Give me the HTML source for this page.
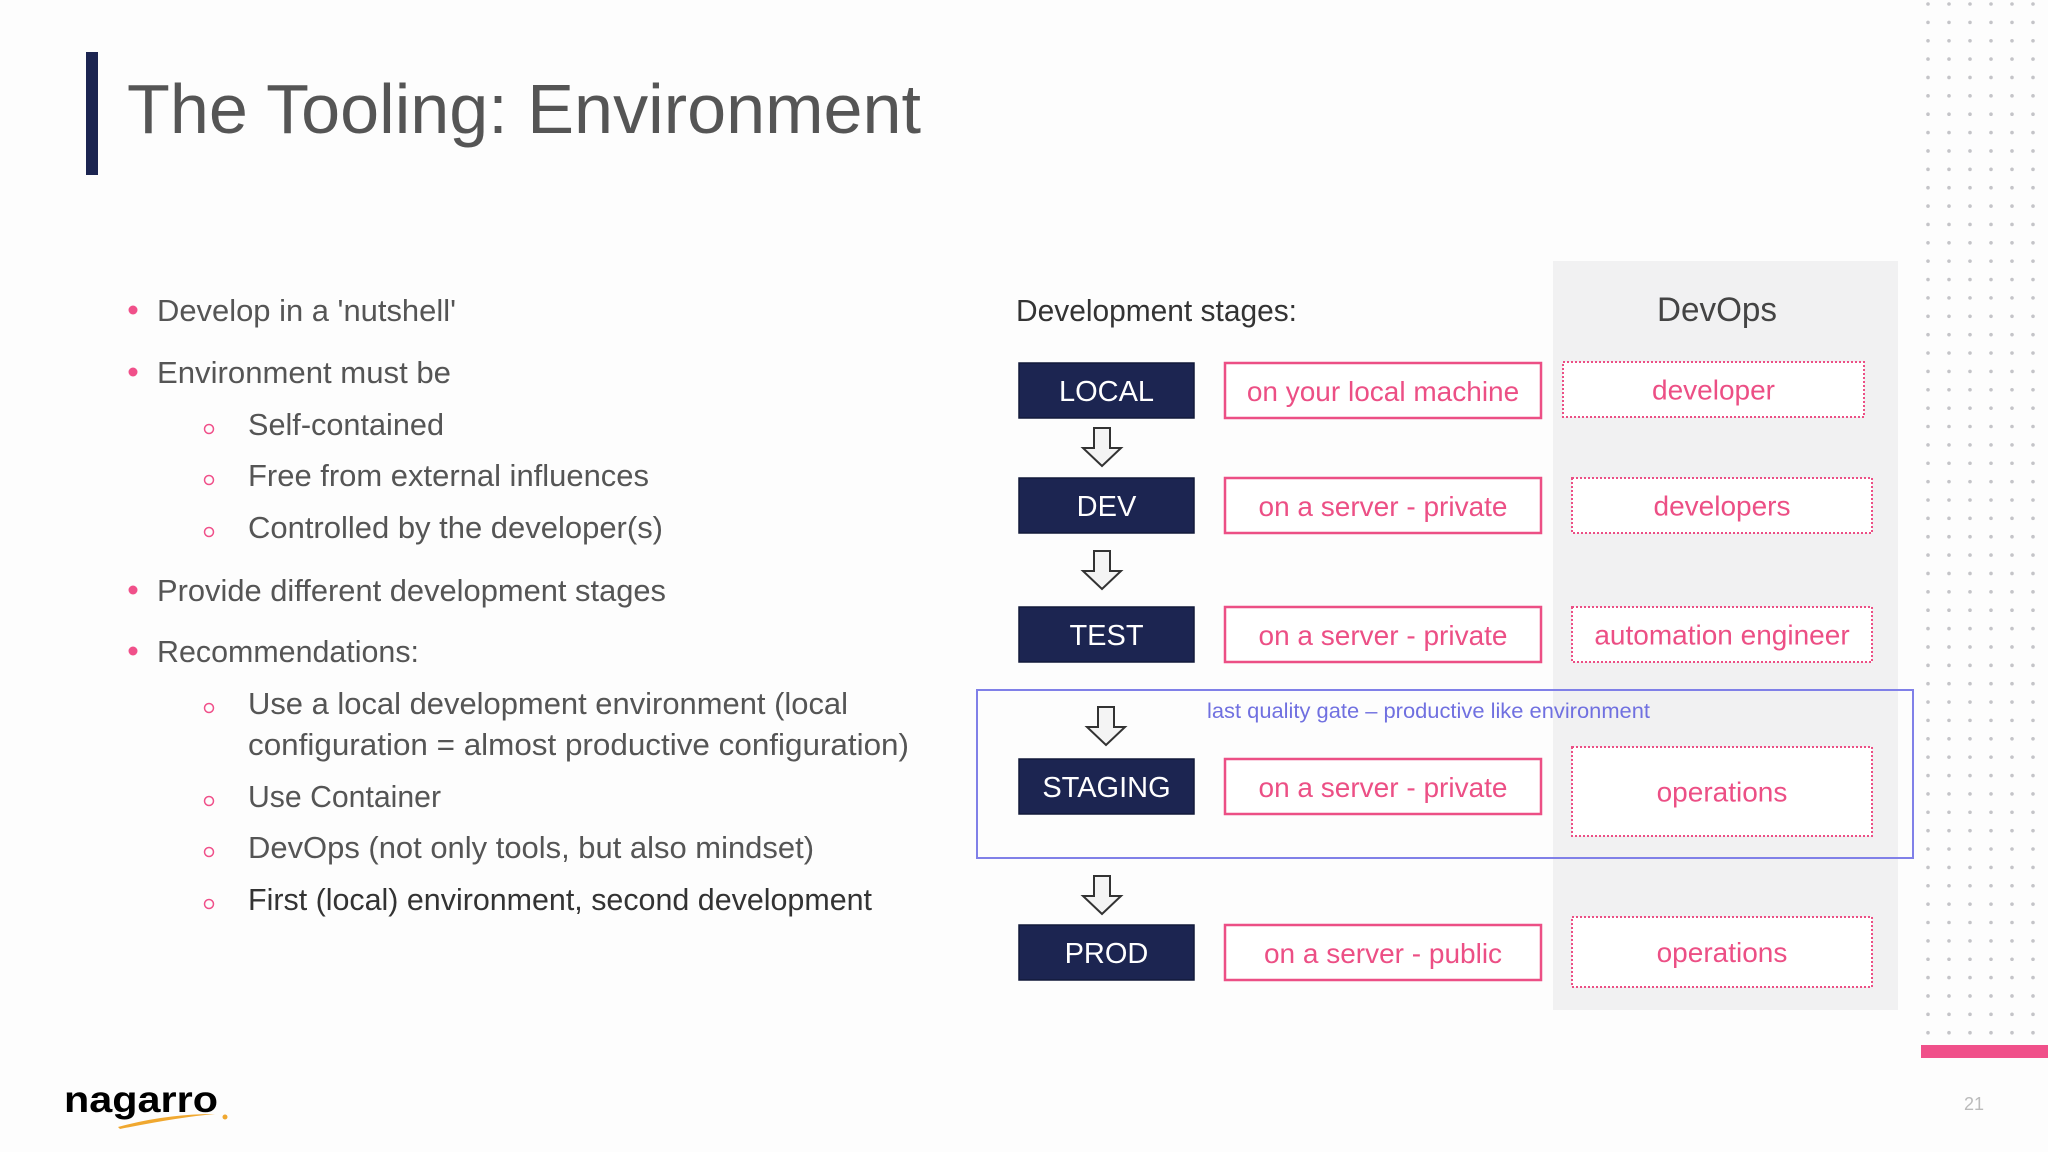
<!DOCTYPE html>
<html><head><meta charset="utf-8"><style>
html,body{margin:0;padding:0;background:#fff;}
svg{display:block;font-family:"Liberation Sans",sans-serif;}
</style></head><body>
<svg width="2048" height="1152" viewBox="0 0 2048 1152" xmlns="http://www.w3.org/2000/svg">
<rect width="2048" height="1152" fill="#fdfdfd"/>
<g id="dots"></g>
<rect x="1921" y="1045" width="127" height="13" fill="#f0508a"/>
<rect x="86" y="52" width="12" height="123" fill="#1c2551"/>
<text x="127" y="133" font-size="70" fill="#555" textLength="794" lengthAdjust="spacingAndGlyphs">The Tooling: Environment</text>

<g fill="#555" font-size="31">
<g fill="#f0508a">
<circle cx="133" cy="310" r="4.5"/><circle cx="133" cy="372" r="4.5"/><circle cx="133" cy="590" r="4.5"/><circle cx="133" cy="651" r="4.5"/>
</g>
<g fill="none" stroke="#f0508a" stroke-width="1.5">
<circle cx="209" cy="429" r="4.5"/><circle cx="209" cy="480" r="4.5"/><circle cx="209" cy="532" r="4.5"/><circle cx="209" cy="708" r="4.5"/><circle cx="209" cy="801" r="4.5"/><circle cx="209" cy="852" r="4.5"/><circle cx="209" cy="904" r="4.5"/>
</g>
<text x="157" y="321" textLength="299" lengthAdjust="spacingAndGlyphs">Develop in a 'nutshell'</text>
<text x="157" y="383" textLength="294" lengthAdjust="spacingAndGlyphs">Environment must be</text>
<text x="248" y="435" textLength="196" lengthAdjust="spacingAndGlyphs">Self-contained</text>
<text x="248" y="486" textLength="401" lengthAdjust="spacingAndGlyphs">Free from external influences</text>
<text x="248" y="538" textLength="415" lengthAdjust="spacingAndGlyphs">Controlled by the developer(s)</text>
<text x="157" y="601" textLength="509" lengthAdjust="spacingAndGlyphs">Provide different development stages</text>
<text x="157" y="662" textLength="262" lengthAdjust="spacingAndGlyphs">Recommendations:</text>
<text x="248" y="714" textLength="600" lengthAdjust="spacingAndGlyphs">Use a local development environment (local</text>
<text x="248" y="755" textLength="661" lengthAdjust="spacingAndGlyphs">configuration = almost productive configuration)</text>
<text x="248" y="807" textLength="193" lengthAdjust="spacingAndGlyphs">Use Container</text>
<text x="248" y="858" textLength="566" lengthAdjust="spacingAndGlyphs">DevOps (not only tools, but also mindset)</text>
<text x="248" y="910" textLength="624" lengthAdjust="spacingAndGlyphs" fill="#333">First (local) environment, second development</text>
</g>

<rect x="1553" y="261" width="345" height="749" fill="#f1f1f2"/>
<text x="1016" y="321" font-size="31" fill="#333" textLength="281" lengthAdjust="spacingAndGlyphs">Development stages:</text>
<text x="1717" y="321" font-size="34" fill="#444" text-anchor="middle" textLength="120" lengthAdjust="spacingAndGlyphs">DevOps</text>

<rect x="977" y="690" width="936" height="168" fill="none" stroke="#8080e8" stroke-width="2"/>
<text x="1207" y="718" font-size="21" fill="#7070e0" textLength="443" lengthAdjust="spacingAndGlyphs">last quality gate – productive like environment</text>

<g id="rows"></g>

<g fill="#000">
<text x="64" y="1112" font-size="37" font-weight="bold" textLength="154" lengthAdjust="spacingAndGlyphs">nagarro</text>
<path d="M118 1127 Q165 1114 215 1114 Q180 1117 120 1129 Z" fill="#f0a830"/>
<circle cx="225" cy="1117" r="2.5" fill="#f0a830"/>
</g>
<text x="1974" y="1110" font-size="18" fill="#bbb" text-anchor="middle">21</text>
</svg>
<script>
var NS='http://www.w3.org/2000/svg';
var dots=document.getElementById('dots');
for(var r=0;r<57;r++){for(var c=0;c<6;c++){var d=document.createElementNS(NS,'circle');
d.setAttribute('cx',1928+c*21);d.setAttribute('cy',4+r*18.37);d.setAttribute('r',1.8);d.setAttribute('fill','#c4c4c8');


dots.appendChild(d);}}

var stages=['LOCAL','DEV','TEST','STAGING','PROD'];
var where=['on your local machine','on a server - private','on a server - private','on a server - private','on a server - public'];
var who=['developer','developers','automation engineer','operations','operations'];
var rowY=[363,478,607,759,925];
var whoBox=[[1563,362,301,55],[1572,478,300,55],[1572,607,300,55],[1572,747,300,89],[1572,917,300,70]];
var arrows=[[1102,428],[1102,551],[1106,707],[1102,876]];
var g=document.getElementById('rows');
function el(t,a,txt){var e=document.createElementNS(NS,t);for(var k in a)e.setAttribute(k,a[k]);if(txt)e.textContent=txt;g.appendChild(e);return e;}
for(var i=0;i<stages.length;i++){
 var y=rowY[i];
 var b=el('rect',{x:1019,y:y,width:175,height:55,fill:'#1c2551',stroke:'#111a3a','stroke-width':1.5});
 
 
 var t=el('text',{x:1106.5,y:y+38,'font-size':29,fill:'#fff','text-anchor':'middle'},stages[i]);
 
 
 var p=el('rect',{x:1225,y:y,width:316,height:55,fill:'#fff',stroke:'#ec4f85','stroke-width':2.5});
 
 
 var pt=el('text',{x:1383,y:y+38,'font-size':28,fill:'#ec4f85','text-anchor':'middle'},where[i]);
 
 
 var wb=whoBox[i];
 var w=el('rect',{x:wb[0],y:wb[1],width:wb[2],height:wb[3],fill:'#fff',stroke:'#ec4f85','stroke-width':2,'stroke-dasharray':'2 2'});
 
 
 var wt=el('text',{x:wb[0]+wb[2]/2,y:wb[1]+wb[3]/2+10,'font-size':28,fill:'#ec4f85','text-anchor':'middle'},who[i]);
 
 
}
for(var j=0;j<arrows.length;j++){
 var x=arrows[j][0],y0=arrows[j][1];
 var a=el('path',{d:'M'+(x-8)+' '+y0+'H'+(x+8)+'V'+(y0+20)+'H'+(x+19)+'L'+x+' '+(y0+38)+'L'+(x-19)+' '+(y0+20)+'H'+(x-8)+'Z',fill:'#f4f4f4',stroke:'#333','stroke-width':2});
 
 
}
</script>
</body></html>
